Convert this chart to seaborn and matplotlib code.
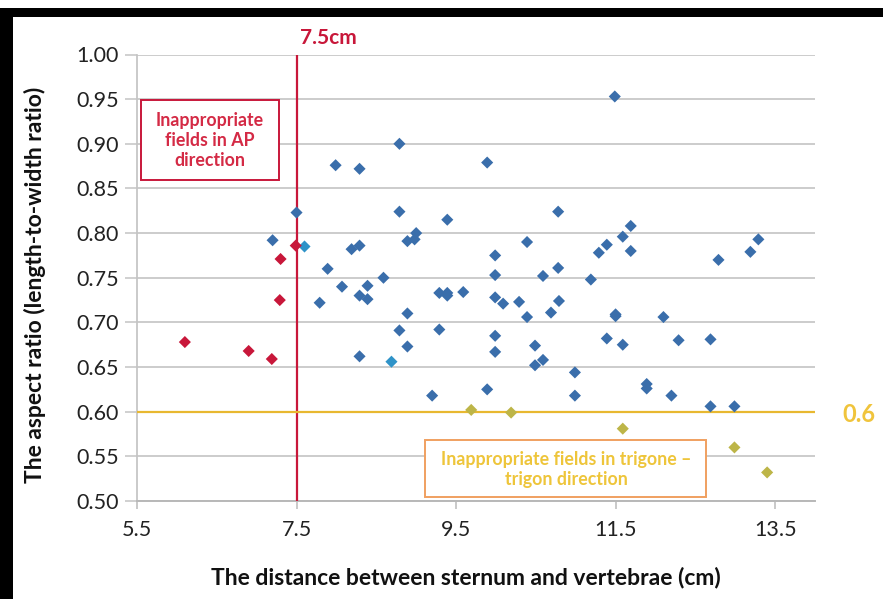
import numpy as np
import pandas as pd
import matplotlib
matplotlib.use("Agg")
import matplotlib.pyplot as plt
from matplotlib.patches import Rectangle
import seaborn as sns

# ---- data ----
blue_x = [7.99, 7.50, 7.20, 7.89, 7.79, 8.07, 8.29, 8.79, 9.89, 8.79, 9.39, 10.78,
          9.00, 8.89, 8.98, 10.39, 8.19, 8.29, 9.99, 8.59, 9.99, 10.59, 10.78,
          11.49, 11.69, 11.59, 11.39, 11.29, 11.69, 12.79, 13.19, 13.29, 11.19,
          8.39, 8.29, 8.39, 9.29, 9.39, 9.39, 9.59, 9.99, 10.09, 10.29, 10.79,
          8.89, 10.39, 10.69, 8.79, 9.29, 9.99, 8.89, 9.99, 10.49, 10.59, 10.49,
          8.29, 10.99, 9.89, 9.20, 10.99, 11.50, 11.50, 12.10, 11.39, 11.59,
          12.29, 12.69, 11.89, 11.89, 12.20, 12.69, 12.99]
blue_y = [0.876, 0.823, 0.792, 0.760, 0.722, 0.740, 0.872, 0.900, 0.879, 0.824, 0.815, 0.824,
          0.800, 0.791, 0.793, 0.790, 0.782, 0.786, 0.775, 0.750, 0.753, 0.752, 0.761,
          0.953, 0.808, 0.796, 0.787, 0.778, 0.780, 0.770, 0.779, 0.793, 0.748,
          0.741, 0.730, 0.726, 0.733, 0.733, 0.730, 0.734, 0.728, 0.721, 0.723, 0.724,
          0.710, 0.706, 0.711, 0.691, 0.692, 0.685, 0.673, 0.667, 0.674, 0.658, 0.652,
          0.662, 0.644, 0.625, 0.618, 0.618, 0.709, 0.707, 0.706, 0.682, 0.675,
          0.680, 0.681, 0.631, 0.626, 0.618, 0.606, 0.606]
cyan_x = [7.60, 8.69]
cyan_y = [0.785, 0.656]
red_x = [7.49, 7.30, 7.29, 6.10, 6.90, 7.19]
red_y = [0.786, 0.771, 0.725, 0.678, 0.668, 0.659]
yellow_x = [9.69, 10.19, 11.59, 12.99, 13.40]
yellow_y = [0.602, 0.599, 0.581, 0.560, 0.532]

x_ticks = [5.5, 7.5, 9.5, 11.5, 13.5]
y_ticks = [0.50, 0.55, 0.60, 0.65, 0.70, 0.75, 0.80, 0.85, 0.90, 0.95, 1.00]
cut_x = 7.5
cut_y = 0.6

df = pd.concat([
    pd.DataFrame({"x": blue_x, "y": blue_y, "g": "blue"}),
    pd.DataFrame({"x": cyan_x, "y": cyan_y, "g": "cyan"}),
    pd.DataFrame({"x": red_x, "y": red_y, "g": "red"}),
    pd.DataFrame({"x": yellow_x, "y": yellow_y, "g": "yellow"}),
], ignore_index=True)

sns.set_theme(style="white")
plt.rcParams["font.family"] = ["Lato", "DejaVu Sans"]

W, H = 883, 599
fig = plt.figure(figsize=(W / 100, H / 100), dpi=100)
AX_L, AX_R, AX_T, AX_B = 137, 815, 54.5, 501
ax = fig.add_axes([AX_L / W, 1 - AX_B / H, (AX_R - AX_L) / W, (AX_B - AX_T) / H])

palette = {"blue": "#3A6EAB", "cyan": "#2F93C8", "red": "#C8173A", "yellow": "#BDB548"}
sns.scatterplot(data=df, x="x", y="y", hue="g", palette=palette, marker="D",
                s=38, linewidth=0, legend=False, ax=ax, zorder=5)

ax.set_xlim(5.5, 14.0)
ax.set_ylim(0.5, 1.0)
ax.set_xticks(x_ticks)
ax.set_xticklabels([f"{v:.1f}" for v in x_ticks])
ax.set_yticks(y_ticks)
ax.set_yticklabels([f"{v:.2f}" for v in y_ticks])
ax.tick_params(axis="both", labelsize=15.5, colors="#222222")
ax.tick_params(axis="y", left=True, length=9, width=1.1, color="#c4c4c4",
               direction="out", pad=4)
ax.tick_params(axis="x", bottom=True, length=6, width=1.1, color="#bbbbbb",
               direction="out", pad=8)
ax.grid(axis="y", color="#c4c4c4", linewidth=1.2)
for side in ["top", "right"]:
    ax.spines[side].set_visible(False)
ax.spines["left"].set_color("#c4c4c4")
ax.spines["bottom"].set_color("#b8b8b8")
ax.spines["bottom"].set_linewidth(1.4)

ax.axvline(cut_x, color="#C8173A", linewidth=1.6, zorder=3)
ax.axhline(cut_y, color="#E8B830", linewidth=1.6, zorder=3)

ax.set_xlabel("The distance between sternum and vertebrae (cm)", fontsize=16.5,
              fontweight="bold", color="#111111")
ax.set_ylabel("The aspect ratio (length-to-width ratio)", fontsize=16.5,
              fontweight="bold", color="#111111")
ax.xaxis.set_label_coords((466 - AX_L) / (AX_R - AX_L), (AX_B - 577) / (AX_B - AX_T))
ax.xaxis.label.set_va("center")
ax.yaxis.set_label_coords((35 - AX_L) / (AX_R - AX_L), (AX_B - 285) / (AX_B - AX_T))
ax.yaxis.label.set_va("center")

# annotations
fig.text(328 / W, 1 - 38 / H, "7.5cm", color="#C8173A", fontsize=15, fontweight="bold",
         ha="center", va="center")
fig.text(859 / W, 1 - 414 / H, "0.6", color="#F0C43C", fontsize=17, fontweight="bold",
         ha="center", va="center")

fig.patches.append(Rectangle((141 / W, 1 - 180 / H), (279 - 141) / W, (180 - 100) / H,
                             transform=fig.transFigure, fill=True, facecolor="white",
                             edgecolor="#C8173A", linewidth=1.4, zorder=6))
fig.text(210 / W, 1 - 140.5 / H, "Inappropriate\nfields in AP\ndirection", color="#D42A45",
         fontsize=12.8, fontweight="bold", ha="center", va="center", linespacing=1.22, zorder=7)

fig.patches.append(Rectangle((425 / W, 1 - 497 / H), (706 - 425) / W, (497 - 440) / H,
                             transform=fig.transFigure, fill=True, facecolor="white",
                             edgecolor="#F0A060", linewidth=1.4, zorder=6))
fig.text(566 / W, 1 - 469.5 / H, "Inappropriate fields in trigone \u2013\ntrigon direction",
         color="#EEC53A", fontsize=12.8, fontweight="bold", ha="center", va="center",
         linespacing=1.25, zorder=7)

# black frame bands from the screenshot
fig.patches.append(Rectangle((0, 1 - 17 / H), 1, 9 / H, transform=fig.transFigure,
                             facecolor="black", edgecolor="none", zorder=10))
fig.patches.append(Rectangle((0, 0), 13 / W, 1 - 8 / H, transform=fig.transFigure,
                             facecolor="black", edgecolor="none", zorder=10))

fig.savefig("out.png", dpi=100)
